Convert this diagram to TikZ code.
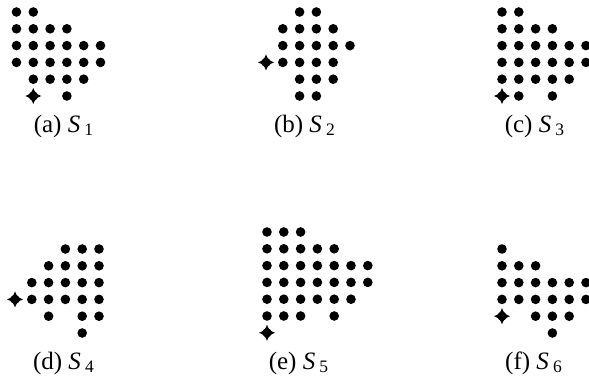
\documentclass[tikz,border=0pt]{standalone}
\usepackage{fontspec}
\setmainfont{Liberation Serif}
\usepackage{tikz}
\newcommand{\dg}{16.8}% Gitterabstand
\tikzset{
	punkt/.style={fill=black},
	beschr/.style={font=\fontsize{12.5}{14}\selectfont, inner sep=0pt},
	stern/.pic={
		\fill (0,-8) .. controls (1.6,-3.4) and (3.4,-1.6) .. (8,0)
			.. controls (3.4,1.6) and (1.6,3.4) .. (0,8)
			.. controls (-1.6,3.4) and (-3.4,1.6) .. (-8,0)
			.. controls (-3.4,-1.6) and (-1.6,-3.4) .. cycle;
		\fill (0,0) circle[radius=4.6];
	}
}

\begin{document}
\begin{tikzpicture}[x=0.5pt, y=-0.5pt]
	\useasboundingbox (0,0) rectangle (589,380);
	% (a)
	\begin{scope}[shift={(16.5,12)}]
		\foreach \r/\cs in {0/{0,1}, 1/{0,...,3}, 2/{0,...,5}, 3/{0,...,5}, 4/{1,...,4}, 5/{3}}
			\foreach \c in \cs \fill[punkt] ({\c*\dg},{\r*\dg}) circle[radius=4.8];
		\pic at ({1*\dg},{5*\dg}) {stern};
	\end{scope}
	% (b)
	\begin{scope}[shift={(266,12)}]
		\foreach \r/\cs in {0/{2,3}, 1/{1,...,4}, 2/{1,...,5}, 3/{1,...,4}, 4/{2,3,4}, 5/{2,3}}
			\foreach \c in \cs \fill[punkt] ({\c*\dg},{\r*\dg}) circle[radius=4.8];
		\pic at (0,{3*\dg}) {stern};
	\end{scope}
	% (c)
	\begin{scope}[shift={(502,12)}]
		\foreach \r/\cs in {0/{0,1}, 1/{0,...,3}, 2/{0,...,5}, 3/{0,...,5}, 4/{0,...,4}, 5/{1,3}}
			\foreach \c in \cs \fill[punkt] ({\c*\dg},{\r*\dg}) circle[radius=4.8];
		\pic at (0,{5*\dg}) {stern};
	\end{scope}
	% (d)
	\begin{scope}[shift={(15,249)}]
		\foreach \r/\cs in {0/{3,4,5}, 1/{2,...,5}, 2/{1,...,5}, 3/{1,...,5}, 4/{2,4,5}, 5/{4}}
			\foreach \c in \cs \fill[punkt] ({\c*\dg},{\r*\dg}) circle[radius=4.8];
		\pic at (0,{3*\dg}) {stern};
	\end{scope}
	% (e)
	\begin{scope}[shift={(267,232)}]
		\foreach \r/\cs in {0/{0,1,2}, 1/{0,...,4}, 2/{0,...,6}, 3/{0,...,6}, 4/{0,...,5}, 5/{0,1,2,4}}
			\foreach \c in \cs \fill[punkt] ({\c*\dg},{\r*\dg}) circle[radius=4.8];
		\pic at (0,{6*\dg}) {stern};
	\end{scope}
	% (f)
	\begin{scope}[shift={(502,249)}]
		\foreach \r/\cs in {0/{0}, 1/{0,1,2}, 2/{0,...,5}, 3/{0,...,5}, 4/{2,3,4}, 5/{3}}
			\foreach \c in \cs \fill[punkt] ({\c*\dg},{\r*\dg}) circle[radius=4.8];
		\pic at (0,{4*\dg}) {stern};
	\end{scope}
	% Beschriftung
	\node[beschr] (la) at (64,126) {(a) \textit{S}\,\textsubscript{1}};
	\node[beschr] (lb) at (305,126) {(b) \textit{S}\,\textsubscript{2}};
	\node[beschr] (lc) at (535,126) {(c) \textit{S}\,\textsubscript{3}};
	\node[beschr] (ld) at (64,363) {(d) \textit{S}\,\textsubscript{4}};
	\node[beschr] (le) at (299,363) {(e) \textit{S}\,\textsubscript{5}};
	\node[beschr] (lf) at (534,363) {(f) \textit{S}\,\textsubscript{6}};
\end{tikzpicture}
\end{document}
